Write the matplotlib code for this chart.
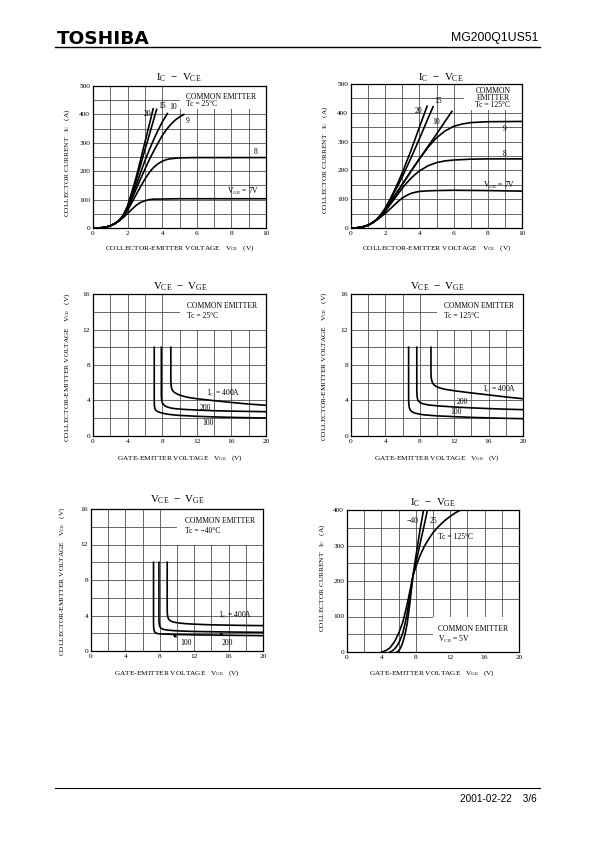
import matplotlib
matplotlib.use("Agg")
import matplotlib.pyplot as plt
from matplotlib.patches import Rectangle
import numpy as np

plt.rcParams['font.family'] = ['Liberation Serif', 'DejaVu Serif']
plt.rcParams['mathtext.fontset'] = 'custom'
plt.rcParams['mathtext.rm'] = 'Liberation Serif'
plt.rcParams['mathtext.it'] = 'Liberation Serif:italic'

W, H = 595, 842

# ---------------- data ----------------
# Chart 1: IC - VCE, Tc = 25C
c1_vge7_x = [0, 0.25, 0.5, 0.75, 1, 1.25, 1.5, 1.75, 2, 2.25, 2.5, 2.75, 3, 3.25, 3.5, 4, 5, 10]
c1_vge7_y = [0, 0, 1, 3, 8, 15, 25, 37, 51, 66, 80, 90, 96, 100, 101.5, 102, 103, 103]
c1_vge8_x = [0, 0.25, 0.5, 0.75, 1, 1.25, 1.5, 1.75, 2, 2.25, 2.5, 2.75, 3, 3.25, 3.5, 3.75, 4, 4.25, 4.5, 5, 6, 10]
c1_vge8_y = [0, 0, 1, 3, 8, 15, 25, 40, 62, 90, 118, 146, 172, 195, 213, 226, 235, 241, 244, 247, 248, 248]
c1_vge9_x = [0, 0.25, 0.5, 0.75, 1, 1.25, 1.5, 1.75, 2, 2.25, 2.5, 2.75, 3, 3.25, 3.5, 3.75, 4, 4.25, 4.5, 4.75, 5, 5.25]
c1_vge9_y = [0, 0, 1, 3, 8, 15, 26, 42, 68, 102, 138, 173, 207, 240, 270, 298, 325, 347, 365, 380, 391, 400]
c1_vge10_x = [0, 0.25, 0.5, 0.75, 1, 1.25, 1.5, 1.75, 2, 2.25, 2.5, 2.75, 3, 3.25, 3.5, 3.75, 4, 4.3]
c1_vge10_y = [0, 0, 1, 3, 8, 15, 26, 43, 72, 112, 152, 195, 237, 275, 310, 343, 373, 403]
c1_vge15_x = [0, 0.25, 0.5, 0.75, 1, 1.25, 1.5, 1.75, 2, 2.25, 2.5, 2.75, 3, 3.25, 3.5, 3.68]
c1_vge15_y = [0, 0, 1, 3, 8, 15, 26, 44, 76, 122, 170, 222, 275, 327, 380, 418]
c1_vge20_x = [0, 0.25, 0.5, 0.75, 1, 1.25, 1.5, 1.75, 2, 2.25, 2.5, 2.75, 3, 3.25, 3.48]
c1_vge20_y = [0, 0, 1, 3, 8, 15, 26, 45, 78, 128, 180, 240, 302, 363, 420]

# Chart 2: IC - VCE, Tc = 125C
c2_vge7_x = [0, 0.25, 0.5, 0.75, 1, 1.25, 1.5, 1.75, 2, 2.25, 2.5, 2.75, 3, 3.25, 3.5, 3.75, 4, 4.5, 5, 6, 8, 10]
c2_vge7_y = [0, 0, 2, 5, 10, 18, 28, 39, 50, 64, 78, 92, 104, 113, 120, 124, 127, 129, 130, 131, 130, 128]
c2_vge8_x = [0, 0.25, 0.5, 0.75, 1, 1.25, 1.5, 1.75, 2, 2.25, 2.5, 2.75, 3, 3.25, 3.5, 3.75, 4, 4.5, 5, 5.5, 6, 7, 8, 10]
c2_vge8_y = [0, 0, 2, 5, 10, 18, 28, 40, 58, 78, 98, 118, 138, 156, 172, 186, 198, 216, 227, 233, 236, 239, 240, 240]
c2_vge9_x = [0, 0.25, 0.5, 0.75, 1, 1.25, 1.5, 1.75, 2, 2.25, 2.5, 2.75, 3, 3.5, 4, 4.5, 5, 5.5, 6, 6.5, 7, 8, 10]
c2_vge9_y = [0, 0, 2, 5, 10, 18, 29, 43, 62, 83, 105, 128, 151, 197, 240, 280, 313, 337, 353, 361, 366, 369, 370]
c2_vge10_x = [0, 0.25, 0.5, 0.75, 1, 1.25, 1.5, 1.75, 2, 2.25, 2.5, 2.75, 3, 3.5, 4, 4.5, 5, 5.5, 5.9]
c2_vge10_y = [0, 0, 2, 5, 10, 18, 29, 44, 64, 86, 108, 130, 152, 196, 240, 283, 326, 370, 405]
c2_vge15_x = [0, 0.25, 0.5, 0.75, 1, 1.25, 1.5, 1.75, 2, 2.25, 2.5, 2.75, 3, 3.5, 4, 4.5, 4.8]
c2_vge15_y = [0, 0, 2, 5, 10, 18, 30, 46, 67, 92, 120, 148, 178, 242, 310, 380, 421]
c2_vge20_x = [0, 0.25, 0.5, 0.75, 1, 1.25, 1.5, 1.75, 2, 2.25, 2.5, 2.75, 3, 3.5, 4, 4.45]
c2_vge20_y = [0, 0, 2, 5, 10, 18, 30, 47, 69, 96, 126, 158, 192, 268, 350, 423]

# Chart 3: VCE - VGE, Tc = 25C
c3_ic100_x = [7.08, 7.08, 7.1, 7.15, 7.25, 7.4, 7.6, 8, 8.5, 9, 10, 12, 14, 16, 18, 20]
c3_ic100_y = [10, 4, 3.4, 3.1, 2.92, 2.8, 2.7, 2.58, 2.48, 2.41, 2.32, 2.22, 2.15, 2.1, 2.06, 2.03]
c3_ic200_x = [7.9, 7.9, 7.93, 8.0, 8.1, 8.25, 8.5, 9, 9.5, 10, 12, 14, 16, 18, 20]
c3_ic200_y = [10, 4.6, 4.1, 3.8, 3.6, 3.45, 3.3, 3.15, 3.08, 3.03, 2.92, 2.85, 2.8, 2.77, 2.74]
c3_ic400_x = [9.0, 9.0, 9.03, 9.1, 9.2, 9.4, 9.7, 10, 10.5, 11, 12, 14, 16, 18, 20]
c3_ic400_y = [10, 6.2, 5.7, 5.35, 5.12, 4.92, 4.75, 4.62, 4.47, 4.35, 4.2, 3.98, 3.78, 3.6, 3.46]

# Chart 4: VCE - VGE, Tc = 125C
c4_ic100_x = [6.7, 6.7, 6.72, 6.78, 6.88, 7.0, 7.2, 7.5, 8, 8.5, 10, 12, 14, 16, 18, 20]
c4_ic100_y = [10, 4.2, 3.6, 3.2, 2.95, 2.8, 2.67, 2.56, 2.46, 2.38, 2.27, 2.18, 2.1, 2.04, 1.99, 1.95]
c4_ic200_x = [7.65, 7.65, 7.67, 7.72, 7.8, 7.95, 8.15, 8.5, 9, 10, 12, 14, 16, 18, 20]
c4_ic200_y = [10, 5.2, 4.6, 4.25, 4.0, 3.83, 3.7, 3.6, 3.5, 3.4, 3.27, 3.17, 3.09, 3.02, 2.97]
c4_ic400_x = [9.3, 9.3, 9.32, 9.4, 9.5, 9.7, 10, 10.5, 11, 12, 14, 16, 18, 20]
c4_ic400_y = [10, 7.2, 6.6, 6.2, 5.95, 5.72, 5.52, 5.37, 5.25, 5.1, 4.85, 4.63, 4.4, 4.2]

# Chart 5: VCE - VGE, Tc = -40C
c5_ic100_x = [7.27, 7.27, 7.29, 7.34, 7.42, 7.55, 7.75, 8, 9, 10, 12, 14, 16, 18, 20]
c5_ic100_y = [10, 3.2, 2.6, 2.3, 2.12, 2.02, 1.96, 1.93, 1.89, 1.86, 1.82, 1.8, 1.77, 1.75, 1.73]
c5_ic200_x = [7.9, 7.9, 7.92, 7.98, 8.08, 8.25, 8.5, 8.9, 9.5, 10.5, 12, 14, 16, 18, 20]
c5_ic200_y = [10, 3.7, 3.15, 2.82, 2.62, 2.5, 2.42, 2.36, 2.3, 2.25, 2.2, 2.17, 2.14, 2.12, 2.1]
c5_ic400_x = [8.86, 8.86, 8.88, 8.94, 9.04, 9.2, 9.45, 9.8, 10.3, 11, 12, 14, 16, 18, 20]
c5_ic400_y = [10, 4.7, 4.15, 3.8, 3.57, 3.42, 3.3, 3.22, 3.15, 3.08, 3.02, 2.95, 2.91, 2.88, 2.86]

# Chart 6: IC - VGE, VCE = 5V
c6_tm40_x = [5.8, 6.0, 6.2, 6.4, 6.6, 6.8, 7.0, 7.3, 7.66, 8.0, 8.5, 8.9]
c6_tm40_y = [0, 3, 10, 21, 36, 56, 80, 135, 213, 268, 345, 400]
c6_t25_x = [5.0, 5.25, 5.5, 5.75, 6.0, 6.25, 6.5, 6.75, 7.0, 7.3, 7.66, 8.0, 8.5, 9.0, 9.36]
c6_t25_y = [0, 3, 8, 15, 25, 38, 55, 80, 110, 155, 213, 250, 305, 360, 400]
c6_t125_x = [4.05, 4.3, 4.6, 5.0, 5.5, 6.0, 6.5, 7.0, 7.3, 7.66, 8.0, 8.5, 9.0, 9.5, 10.0, 10.5, 11.0, 11.5, 12.0, 12.6, 13.2]
c6_t125_y = [0, 2, 5, 12, 28, 52, 85, 135, 170, 213, 240, 272, 298, 318, 336, 350, 362, 373, 382, 392, 400]

fig = plt.figure(figsize=(W / 100, H / 100), dpi=100)

def px_axes(l, t, r, b):
    return fig.add_axes([l / W, 1 - b / H, (r - l) / W, (b - t) / H])

def ftext(x, y, s, **kw):
    fig.text(x / W, 1 - y / H, s, **kw)

GRID = '#404040'
TICKFS = 5.3
LABFS = 5.3
TITFS = 7.8
LW = 1.2

def setup(ax, xmax, xmaj, xmin, ymax, ymaj, ymin, box):
    ax.set_xlim(0, xmax)
    ax.set_ylim(0, ymax)
    ax.set_xticks(np.arange(0, xmax + 0.001, xmaj))
    ax.set_xticks(np.arange(0, xmax + 0.001, xmin), minor=True)
    ax.set_yticks(np.arange(0, ymax + 0.001, ymaj))
    ax.set_yticks(np.arange(0, ymax + 0.001, ymin), minor=True)
    ax.set_axisbelow(True)
    ax.grid(True, which='both', color=GRID, lw=0.55)
    ax.tick_params(which='both', length=0, labelsize=TICKFS, pad=2)
    for sp in ax.spines.values():
        sp.set_linewidth(0.9)
    x0, y0, x1, y1 = box
    ax.add_patch(Rectangle((x0, y0), x1 - x0, y1 - y0, facecolor='white',
                           edgecolor='none', zorder=1))

def crv(ax, x, y):
    ax.plot(x, y, color='black', lw=LW, zorder=2, solid_joinstyle='round')

def txt(ax, x, y, s, fs=5.5, **kw):
    ax.text(x, y, s, fontsize=fs, zorder=3, **kw)

VCE_LAB = r'COLLECTOR-EMITTER VOLTAGE   V$_{\mathrm{CE}}$   (V)'
VGE_LAB = r'GATE-EMITTER VOLTAGE   V$_{\mathrm{GE}}$   (V)'
IC_LAB = r'COLLECTOR CURRENT   I$_{\mathrm{C}}$   (A)'
T_IC_VCE = r'I$_{\mathrm{C}}$  $-$  V$_{\mathrm{CE}}$'
T_VCE_VGE = r'V$_{\mathrm{CE}}$  $-$  V$_{\mathrm{GE}}$'
T_IC_VGE = r'I$_{\mathrm{C}}$  $-$  V$_{\mathrm{GE}}$'

# ---------- Chart 1 ----------
ax1 = px_axes(93, 86, 266, 228)
setup(ax1, 10, 2, 1, 500, 100, 50, (5, 420, 10, 500))
for x, y in [(c1_vge7_x, c1_vge7_y), (c1_vge8_x, c1_vge8_y), (c1_vge9_x, c1_vge9_y),
             (c1_vge10_x, c1_vge10_y), (c1_vge15_x, c1_vge15_y), (c1_vge20_x, c1_vge20_y)]:
    crv(ax1, x, y)
txt(ax1, 5.35, 462, 'COMMON EMITTER', va='center')
txt(ax1, 5.35, 438, 'Tc = 25°C', va='center')
txt(ax1, 2.9, 402, '20', va='center')
txt(ax1, 3.75, 428, '15', va='center')
txt(ax1, 4.4, 425, '10', va='center')
txt(ax1, 5.35, 378, '9', va='center')
txt(ax1, 9.3, 267, '8', va='center')
txt(ax1, 7.75, 130, r'V$_{\mathrm{GE}}$ = 7V', va='center')
ftext(179, 78, T_IC_VCE, fontsize=TITFS, ha='center', va='center')
ftext(180, 248, VCE_LAB, fontsize=LABFS, ha='center', va='center')
ftext(67, 163, IC_LAB, fontsize=LABFS, ha='center', va='center', rotation=90)

# ---------- Chart 2 ----------
ax2 = px_axes(351, 84, 522, 228)
setup(ax2, 10, 2, 1, 500, 100, 50, (6.6, 410, 10, 500))
for x, y in [(c2_vge7_x, c2_vge7_y), (c2_vge8_x, c2_vge8_y), (c2_vge9_x, c2_vge9_y),
             (c2_vge10_x, c2_vge10_y), (c2_vge15_x, c2_vge15_y), (c2_vge20_x, c2_vge20_y)]:
    crv(ax2, x, y)
txt(ax2, 8.3, 477, 'COMMON', ha='center', va='center')
txt(ax2, 8.3, 451, 'EMITTER', ha='center', va='center')
txt(ax2, 8.3, 426, 'Tc = 125°C', ha='center', va='center')
txt(ax2, 3.7, 405, '20', va='center')
txt(ax2, 4.85, 441, '15', va='center')
txt(ax2, 4.75, 367, '10', va='center')
txt(ax2, 8.9, 344, '9', va='center')
txt(ax2, 8.9, 258, '8', va='center')
txt(ax2, 7.7, 148, r'V$_{\mathrm{GE}}$ = 7V', va='center')
ftext(441, 78, T_IC_VCE, fontsize=TITFS, ha='center', va='center')
ftext(437, 248, VCE_LAB, fontsize=LABFS, ha='center', va='center')
ftext(325, 160, IC_LAB, fontsize=LABFS, ha='center', va='center', rotation=90)

# ---------- Chart 3 ----------
ax3 = px_axes(93, 294, 266, 436)
setup(ax3, 20, 4, 2, 16, 4, 2, (10, 12, 20, 16))
for x, y in [(c3_ic100_x, c3_ic100_y), (c3_ic200_x, c3_ic200_y), (c3_ic400_x, c3_ic400_y)]:
    crv(ax3, x, y)
txt(ax3, 10.9, 14.6, 'COMMON EMITTER', va='center')
txt(ax3, 10.9, 13.5, 'Tc = 25°C', va='center')
txt(ax3, 13.2, 4.85, r'I$_{\mathrm{C}}$ = 400A', va='center')
txt(ax3, 12.3, 3.2, '200', va='center')
txt(ax3, 12.6, 1.45, '100', va='center')
ftext(180, 287, T_VCE_VGE, fontsize=TITFS, ha='center', va='center')
ftext(180, 458, VGE_LAB, fontsize=LABFS, ha='center', va='center')
ftext(67, 367, VCE_LAB, fontsize=LABFS, ha='center', va='center', rotation=90)

# ---------- Chart 4 ----------
ax4 = px_axes(351, 294, 523, 436)
setup(ax4, 20, 4, 2, 16, 4, 2, (10, 12, 20, 16))
for x, y in [(c4_ic100_x, c4_ic100_y), (c4_ic200_x, c4_ic200_y), (c4_ic400_x, c4_ic400_y)]:
    crv(ax4, x, y)
txt(ax4, 10.8, 14.6, 'COMMON EMITTER', va='center')
txt(ax4, 10.8, 13.5, 'Tc = 125°C', va='center')
txt(ax4, 15.3, 5.2, r'I$_{\mathrm{C}}$ = 400A', va='center')
txt(ax4, 12.3, 3.83, '200', va='center')
txt(ax4, 11.6, 2.7, '100', va='center')
ftext(437, 287, T_VCE_VGE, fontsize=TITFS, ha='center', va='center')
ftext(437, 458, VGE_LAB, fontsize=LABFS, ha='center', va='center')
ftext(324, 366, VCE_LAB, fontsize=LABFS, ha='center', va='center', rotation=90)

# ---------- Chart 5 ----------
ax5 = px_axes(91, 509, 263, 651)
setup(ax5, 20, 4, 2, 16, 4, 2, (10, 12, 20, 16))
for x, y in [(c5_ic100_x, c5_ic100_y), (c5_ic200_x, c5_ic200_y), (c5_ic400_x, c5_ic400_y)]:
    crv(ax5, x, y)
txt(ax5, 10.9, 14.6, 'COMMON EMITTER', va='center')
txt(ax5, 10.9, 13.5, 'Tc = \u221240°C', va='center')
txt(ax5, 14.9, 4.0, r'I$_{\mathrm{C}}$ = 400A', va='center')
ax5.annotate('200', xy=(15.0, 2.1), xytext=(15.2, 0.85), fontsize=5.5, va='center',
             arrowprops=dict(arrowstyle='-|>', color='black', lw=0.7, mutation_scale=4,
                             shrinkA=1, shrinkB=0), zorder=3)
ax5.annotate('100', xy=(9.5, 1.85), xytext=(10.4, 0.85), fontsize=5.5, va='center',
             arrowprops=dict(arrowstyle='-|>', color='black', lw=0.7, mutation_scale=4,
                             shrinkA=1, shrinkB=0), zorder=3)
ftext(177, 500, T_VCE_VGE, fontsize=TITFS, ha='center', va='center')
ftext(177, 673, VGE_LAB, fontsize=LABFS, ha='center', va='center')
ftext(62, 581, VCE_LAB, fontsize=LABFS, ha='center', va='center', rotation=90)

# ---------- Chart 6 ----------
ax6 = px_axes(347, 510, 519, 652)
setup(ax6, 20, 4, 2, 400, 100, 50, (10, 0, 20, 100))
for x, y in [(c6_tm40_x, c6_tm40_y), (c6_t25_x, c6_t25_y), (c6_t125_x, c6_t125_y)]:
    crv(ax6, x, y)
txt(ax6, 10.6, 65, 'COMMON EMITTER', va='center')
txt(ax6, 10.6, 36, r'V$_{\mathrm{CE}}$ = 5V', va='center')
txt(ax6, 6.9, 369, '\u221240', va='center')
txt(ax6, 9.6, 369, '25', va='center')
txt(ax6, 10.6, 325, 'Tc = 125°C', va='center')
ftext(433, 503, T_IC_VGE, fontsize=TITFS, ha='center', va='center')
ftext(432, 673, VGE_LAB, fontsize=LABFS, ha='center', va='center')
ftext(322, 578, IC_LAB, fontsize=LABFS, ha='center', va='center', rotation=90)

# ---------- Header / footer ----------
ftext(57, 38.5, 'TOSHIBA', fontsize=13.3, fontweight='heavy', family='DejaVu Sans',
      ha='left', va='center')
ftext(538, 37.5, 'MG200Q1US51', fontsize=8.8, family='Liberation Sans', ha='right', va='center')
fig.add_artist(plt.Line2D([55 / W, 540 / W], [1 - 46.7 / H, 1 - 46.7 / H], color='black', lw=1.0))
fig.add_artist(plt.Line2D([55 / W, 540 / W], [1 - 788.3 / H, 1 - 788.3 / H], color='black', lw=0.8))
ftext(537, 798.5, '2001-02-22    3/6', fontsize=7.2, family='Liberation Sans', ha='right', va='center')

fig.savefig('out.png', dpi=100)
